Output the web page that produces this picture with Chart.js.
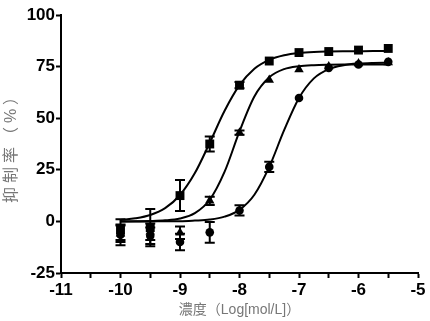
<!DOCTYPE html>
<html lang="zh">
<head>
  <meta charset="UTF-8">
  <title>抑制率曲线</title>
  <script src="https://cdn.jsdelivr.net/npm/chart.js"></script>
  <style>
    html, body { margin: 0; padding: 0; background: #fff; }
  </style>
</head>
<body>
  <canvas id="chart" width="430" height="321"></canvas>

  <script>
    // measured points (log dose)
    const doses = [-10, -9.5, -9, -8.5, -8, -7.5, -7, -6.5, -6, -5.5];
    const squareMean = [-4, -3, 12.5, 37.5, 66, 77.7, 81.8, 82.3, 83, 83.8];
    const squareErr = [5, 9, 7.5, 3.6, 1.5, 0, 0, 0, 0, 0];
    const triMean = [-6, -5, -5.5, 10, 43, 68.5, 73.6, 75, 76.5, 77];
    const triErr = [4, 4, 3, 2, 1, 0, 0, 0, 0, 0];
    const circleMean = [-6.5, -7, -10, -5.3, 5.3, 26.4, 59.8, 74.4, 76, 77.3];
    const circleErr = [5, 4, 4, 5, 2.5, 2.5, 0, 0, 0, 0];

    // fitted curves
    const curveX = [-10, -9.75, -9.5, -9.25, -9, -8.75, -8.5, -8.25, -8, -7.75,
                    -7.5, -7.25, -7, -6.75, -6.5, -6.25, -6, -5.75, -5.5];
    const squareCurve = [0.7, 1.5, 3.1, 6.4, 12.8, 23.4, 38.1, 53.6, 66, 74,
                         78.3, 80.5, 81.6, 82.1, 82.3, 82.4, 82.45, 82.5, 82.5];
    const triCurve = [0, 0.1, 0.2, 0.5, 1.4, 4, 10.5, 24.1, 43.6, 60.5,
                      69.8, 73.8, 75.2, 75.7, 75.9, 76, 76, 76, 76];
    const circleCurve = [0, 0, 0, 0.1, 0.1, 0.4, 0.9, 2.3, 5.6, 12.9,
                         26.4, 44.2, 59.8, 69.3, 73.8, 75.7, 76.5, 76.8, 76.9];

    const yTicks = [-25, 0, 25, 50, 75, 100];

    const latin = "'Liberation Sans', Arial, 'Noto Sans CJK JP', sans-serif";

    function pts(xs, ys) {
      return xs.map((x, i) => ({ x: x, y: ys[i] }));
    }

    function curve(ys) {
      return {
        data: pts(curveX, ys),
        showLine: true,
        borderColor: '#000',
        borderWidth: 2,
        pointRadius: 0,
        cubicInterpolationMode: 'monotone',
        order: 2
      };
    }

    function marks(ys, errs, style, r) {
      return {
        data: pts(doses, ys),
        errors: errs,
        showLine: false,
        pointStyle: style,
        pointRadius: r,
        backgroundColor: '#000',
        borderColor: '#000',
        borderWidth: 0,
        order: 1
      };
    }

    // vertical error bars with caps
    const errorBars = {
      id: 'errorBars',
      afterDatasetsDraw(chart) {
        const ctx = chart.ctx;
        const xs = chart.scales.x, ys = chart.scales.y;
        ctx.save();
        ctx.strokeStyle = '#000';
        ctx.lineWidth = 2;
        chart.data.datasets.forEach(ds => {
          if (!ds.errors) return;
          ds.data.forEach((p, i) => {
            const e = ds.errors[i];
            if (!e) return;
            const px = xs.getPixelForValue(p.x);
            const top = ys.getPixelForValue(p.y + e);
            const bot = ys.getPixelForValue(p.y - e);
            ctx.beginPath();
            ctx.moveTo(px, top); ctx.lineTo(px, bot);
            ctx.moveTo(px - 5, top); ctx.lineTo(px + 5, top);
            ctx.moveTo(px - 5, bot); ctx.lineTo(px + 5, bot);
            ctx.stroke();
          });
        });
        ctx.restore();
      }
    };

    // spread the y title out like the original
    function spacedTitle(s) {
      if (s._spaced) return;
      const orig = s.drawTitle;
      s.drawTitle = function () {
        this.ctx.save();
        this.ctx.letterSpacing = '4px';
        orig.apply(this, arguments);
        this.ctx.restore();
      };
      s._spaced = true;
    }

    new Chart(document.getElementById('chart'), {
      type: 'scatter',
      data: {
        datasets: [
          curve(squareCurve),
          curve(triCurve),
          curve(circleCurve),
          marks(squareMean, squareErr, 'rect', 6.3),
          marks(triMean, triErr, 'triangle', 5.5),
          marks(circleMean, circleErr, 'circle', 4.3)
        ]
      },
      options: {
        responsive: false,
        animation: false,
        layout: { padding: { left: 0, top: 15, right: 12, bottom: 0 } },
        plugins: { legend: { display: false }, tooltip: { enabled: false } },
        scales: {
          x: {
            type: 'linear',
            min: -11,
            max: -5,
            afterFit: s => { s.height = 48; },
            border: { color: '#000', width: 2 },
            grid: { drawOnChartArea: false, tickLength: 5, tickColor: '#000', tickWidth: 2 },
            ticks: {
              stepSize: 0.5,
              autoSkip: false,
              maxRotation: 0,
              padding: 2,
              color: '#000',
              font: { family: latin, size: 17, weight: 'bold' },
              callback: v => Number.isInteger(v) ? String(v) : ''
            },
            title: {
              display: true,
              text: '濃度（Log[mol/L]）',
              color: '#777',
              padding: { top: 0, bottom: 2 },
              font: { family: latin, size: 14 }
            }
          },
          y: {
            min: -25,
            max: 100,
            afterFit: s => { s.width = 61; spacedTitle(s); },
            afterBuildTicks: s => { s.ticks = yTicks.map(v => ({ value: v })); },
            border: { color: '#000', width: 2 },
            grid: { drawOnChartArea: false, tickLength: 5, tickColor: '#000', tickWidth: 2 },
            ticks: {
              padding: 1,
              color: '#000',
              font: { family: latin, size: 17, weight: 'bold' }
            },
            title: {
              display: true,
              text: '抑制率（%）',
              color: '#777',
              padding: { top: 2, bottom: 0 },
              font: { family: latin, size: 16 }
            }
          }
        }
      },
      plugins: [errorBars]
    });
  </script>
</body>
</html>
